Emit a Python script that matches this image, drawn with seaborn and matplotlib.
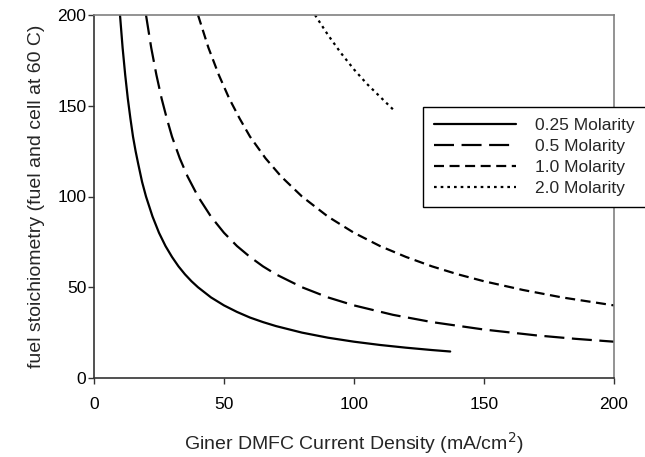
import matplotlib
matplotlib.use("Agg")
import matplotlib.pyplot as plt
import seaborn as sns
import pandas as pd

# Data
x_025 = [10, 11, 12, 13, 14, 15, 16, 17, 18.5, 20, 22.5, 25, 27.5, 30, 32.5, 35, 37.5, 40,
         45, 50, 55, 60, 65, 70, 80, 90, 100, 110, 120, 130, 137]
y_025 = [200, 182, 167, 154, 143, 133, 125, 118, 108, 100, 89, 80, 72.7, 66.7, 61.5, 57.1,
         53.3, 50, 44.4, 40, 36.4, 33.3, 30.8, 28.6, 25, 22.2, 20, 18.2, 16.7, 15.4, 14.6]

x_05 = [20, 22, 24, 26, 28, 30, 33, 36, 40, 45, 50, 55, 60, 65, 70, 80, 90, 100, 115, 130,
        150, 170, 185, 200]
y_05 = [200, 182, 167, 154, 143, 133, 121, 111, 100, 88.9, 80, 72.7, 66.7, 61.5, 57.1, 50,
        44.4, 40, 34.8, 30.8, 26.7, 23.5, 21.6, 20]

x_10 = [40, 44, 48, 52, 56, 60, 66, 72, 80, 90, 100, 110, 120, 130, 140, 150, 165, 180, 200]
y_10 = [200, 182, 167, 154, 143, 133, 121, 111, 100, 88.9, 80, 72.7, 66.7, 61.5, 57.1,
        53.3, 48.5, 44.4, 40]

x_20 = [85, 90, 95, 100, 105, 110, 115]
y_20 = [200, 189, 179, 170, 162, 155, 148]

labels = ["0.25 Molarity", "0.5 Molarity", "1.0 Molarity", "2.0 Molarity"]

frames = []
for lab, xs, ys in zip(labels, [x_025, x_05, x_10, x_20], [y_025, y_05, y_10, y_20]):
    frames.append(pd.DataFrame({"x": xs, "y": ys, "series": lab}))
df = pd.concat(frames, ignore_index=True)

sns.set_style("white")
plt.rcParams["font.family"] = ["Liberation Sans", "DejaVu Sans"]

fig = plt.figure(figsize=(6.45, 4.57), dpi=100)
ax = fig.add_axes([94/645, 1-378/457, (614-94)/645, (378-15)/457])

dashes = {
    "0.25 Molarity": "",
    "0.5 Molarity": (9, 3.4),
    "1.0 Molarity": (4.5, 2.5),
    "2.0 Molarity": (1.2, 1.8),
}
sns.lineplot(data=df, x="x", y="y", hue="series", style="series",
             palette=["black"] * 4, dashes=dashes, linewidth=1.6,
             sort=False, ax=ax, legend=True, estimator=None)

ax.set_xlim(0, 200)
ax.set_ylim(0, 200)
ax.set_xticks([0, 50, 100, 150, 200])
ax.set_yticks([0, 50, 100, 150, 200])
ax.tick_params(axis="both", labelsize=12.5, length=4, width=1, direction="out",
               colors="#333333", labelcolor="black", bottom=True, left=True)
ax.tick_params(axis="x", pad=10)
ax.tick_params(axis="y", pad=1.5)
for s in ["left", "bottom"]:
    ax.spines[s].set_color("#333333")
    ax.spines[s].set_linewidth(1.2)
for s in ["top", "right"]:
    ax.spines[s].set_color("#808080")
    ax.spines[s].set_linewidth(1.2)

ax.set_xlabel("Giner DMFC Current Density (mA/cm$^2$)", fontsize=14, labelpad=13)
ax.set_ylabel("fuel stoichiometry (fuel and cell at 60 C)", fontsize=14, labelpad=9)

handles, labs = ax.get_legend_handles_labels()
leg = ax.legend(handles, labs, loc="upper left", bbox_to_anchor=(423/645, 1-107/457),
                bbox_transform=fig.transFigure, fontsize=12.5, frameon=True,
                fancybox=False, edgecolor="black", handlelength=4.7,
                handletextpad=1.1, labelspacing=0.33, borderpad=0.65,
                borderaxespad=0, framealpha=1)
leg.get_frame().set_linewidth(1.0)
for line in leg.get_lines():
    line.set_linewidth(1.6)

fig.savefig("out.png", dpi=100)
